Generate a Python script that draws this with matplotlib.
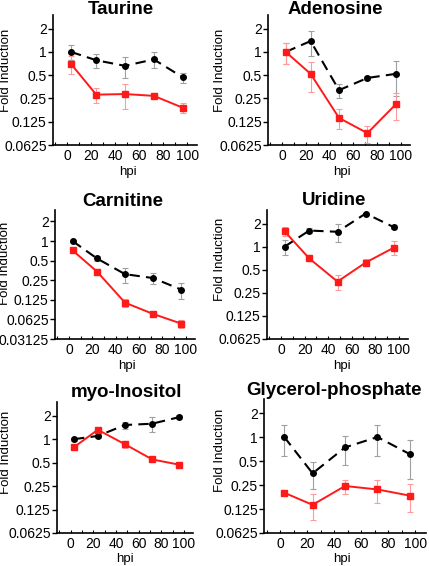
import matplotlib
matplotlib.use('Agg')
import matplotlib.pyplot as plt
from matplotlib.ticker import FixedLocator, FixedFormatter, MultipleLocator

plt.rcParams['font.family'] = ['Liberation Sans', 'DejaVu Sans']

hpi = [3, 24, 48, 72, 96]

titles = ['Taurine', 'Adenosine', 'Carnitine', 'Uridine', 'myo-Inositol', 'Glycerol-phosphate']

black_vals = [
    [1.0, 0.78, 0.66, 0.80, 0.47],
    [1.0, 1.38, 0.32, 0.46, 0.52],
    [1.0, 0.54, 0.31, 0.27, 0.18],
    [1.0, 1.62, 1.56, 2.7, 1.79],
    [1.0, 1.10, 1.52, 1.58, 1.92],
    [1.0, 0.35, 0.74, 1.0, 0.61],
]
black_err = [
    [0.22, 0.17, 0.20, 0.19, 0.07],
    [0.30, 0.50, 0.07, 0.03, 0.25],
    [0.03, 0.04, 0.08, 0.05, 0.05],
    [0.22, 0.12, 0.40, 0.08, 0.10],
    [0.05, 0.06, 0.15, 0.35, 0.12],
    [0.42, 0.13, 0.30, 0.43, 0.31],
]
red_vals = [
    [0.70, 0.28, 0.285, 0.27, 0.19],
    [1.0, 0.52, 0.14, 0.089, 0.21],
    [0.72, 0.34, 0.113, 0.076, 0.054],
    [1.58, 0.70, 0.35, 0.62, 0.97],
    [0.79, 1.32, 0.86, 0.55, 0.47],
    [0.20, 0.141, 0.243, 0.22, 0.184],
]
red_err = [
    [0.18, 0.06, 0.10, 0.02, 0.03],
    [0.30, 0.22, 0.04, 0.022, 0.08],
    [0.05, 0.03, 0.015, 0.006, 0.008],
    [0.20, 0.05, 0.08, 0.06, 0.20],
    [0.05, 0.08, 0.10, 0.04, 0.03],
    [0.005, 0.05, 0.05, 0.07, 0.07],
]

# layout in pixels
W, H = 429, 566
boxes = [  # left, top, width, bottom
    (53, 15, 144, 145),
    (268, 15, 142, 145),
    (55, 210, 140, 339),
    (267, 210, 141, 339),
    (57, 402, 136, 533),
    (264, 399, 162, 533),
]
title_xy = [(121, 14), (335, 14), (123, 206), (334, 205), (126, 397), (334, 395)]
ylab_xy = [(6, 70), (220, 70), (5, 263), (220, 259), (6, 452), (220, 450)]
xlab_xy = [(128, 172), (342, 172), (127, 366), (342, 366), (125, 559), (342, 559)]
ylows = [0.0625, 0.0625, 0.03125, 0.0625, 0.0625, 0.0625]


def fx(px):
    return px / W


def fy(py):
    return 1 - py / H


fig = plt.figure(figsize=(W / 100, H / 100), dpi=100)

for i in range(6):
    l, t, w, b = boxes[i]
    ax = fig.add_axes([fx(l), fy(b), w / W, (b - t) / H])
    ax.errorbar(hpi, black_vals[i], yerr=black_err[i], color='black', ls=(0, (5, 3)),
                lw=1.5, marker='o', ms=4, ecolor='#a0a0a0', elinewidth=0.8,
                capsize=2, capthick=0.8, zorder=2, clip_on=False)
    ax.errorbar(hpi, red_vals[i], yerr=red_err[i], color='#ff1a1a', ls='-',
                lw=1.4, marker='s', ms=4, ecolor='#ff9a9a', elinewidth=0.8,
                capsize=2, capthick=0.8, zorder=3, clip_on=False)
    ax.set_yscale('log')
    ylo = ylows[i]
    ax.set_ylim(ylo, 3.0)
    ax.set_xlim(-12, 108)
    yt = [0.03125, 0.0625, 0.125, 0.25, 0.5, 1, 2]
    yl = ['0.03125', '0.0625', '0.125', '0.25', '0.5', '1', '2']
    if ylo > 0.04:
        yt, yl = yt[1:], yl[1:]
    ax.yaxis.set_major_locator(FixedLocator(yt))
    ax.yaxis.set_major_formatter(FixedFormatter(yl))
    ax.yaxis.set_minor_locator(FixedLocator([]))
    ax.xaxis.set_major_locator(FixedLocator([0, 20, 40, 60, 80, 100]))
    ax.xaxis.set_minor_locator(MultipleLocator(10))
    ax.tick_params(axis='y', direction='out', length=3.5, width=1, labelsize=10, pad=1)
    ax.tick_params(axis='x', which='both', direction='in', length=2.5, width=0.8,
                   labelsize=10, pad=3)
    ax.spines['top'].set_visible(False)
    ax.spines['right'].set_visible(False)
    ax.spines['left'].set_linewidth(1.2)
    ax.spines['bottom'].set_linewidth(1.2)

    tx, ty = title_xy[i]
    fig.text(fx(tx), fy(ty), titles[i], fontsize=13.5, fontweight='bold',
             ha='center', va='baseline')
    ax.set_ylabel('Fold Induction', fontsize=9.5, va='center', ha='center')
    ax.yaxis.set_label_coords(fx(ylab_xy[i][0]), fy(ylab_xy[i][1]), transform=fig.transFigure)
    ax.set_xlabel('hpi', fontsize=9.5, va='center', ha='center')
    ax.xaxis.set_label_coords(fx(xlab_xy[i][0]), fy(xlab_xy[i][1]), transform=fig.transFigure)

fig.savefig('out.png', dpi=100)
